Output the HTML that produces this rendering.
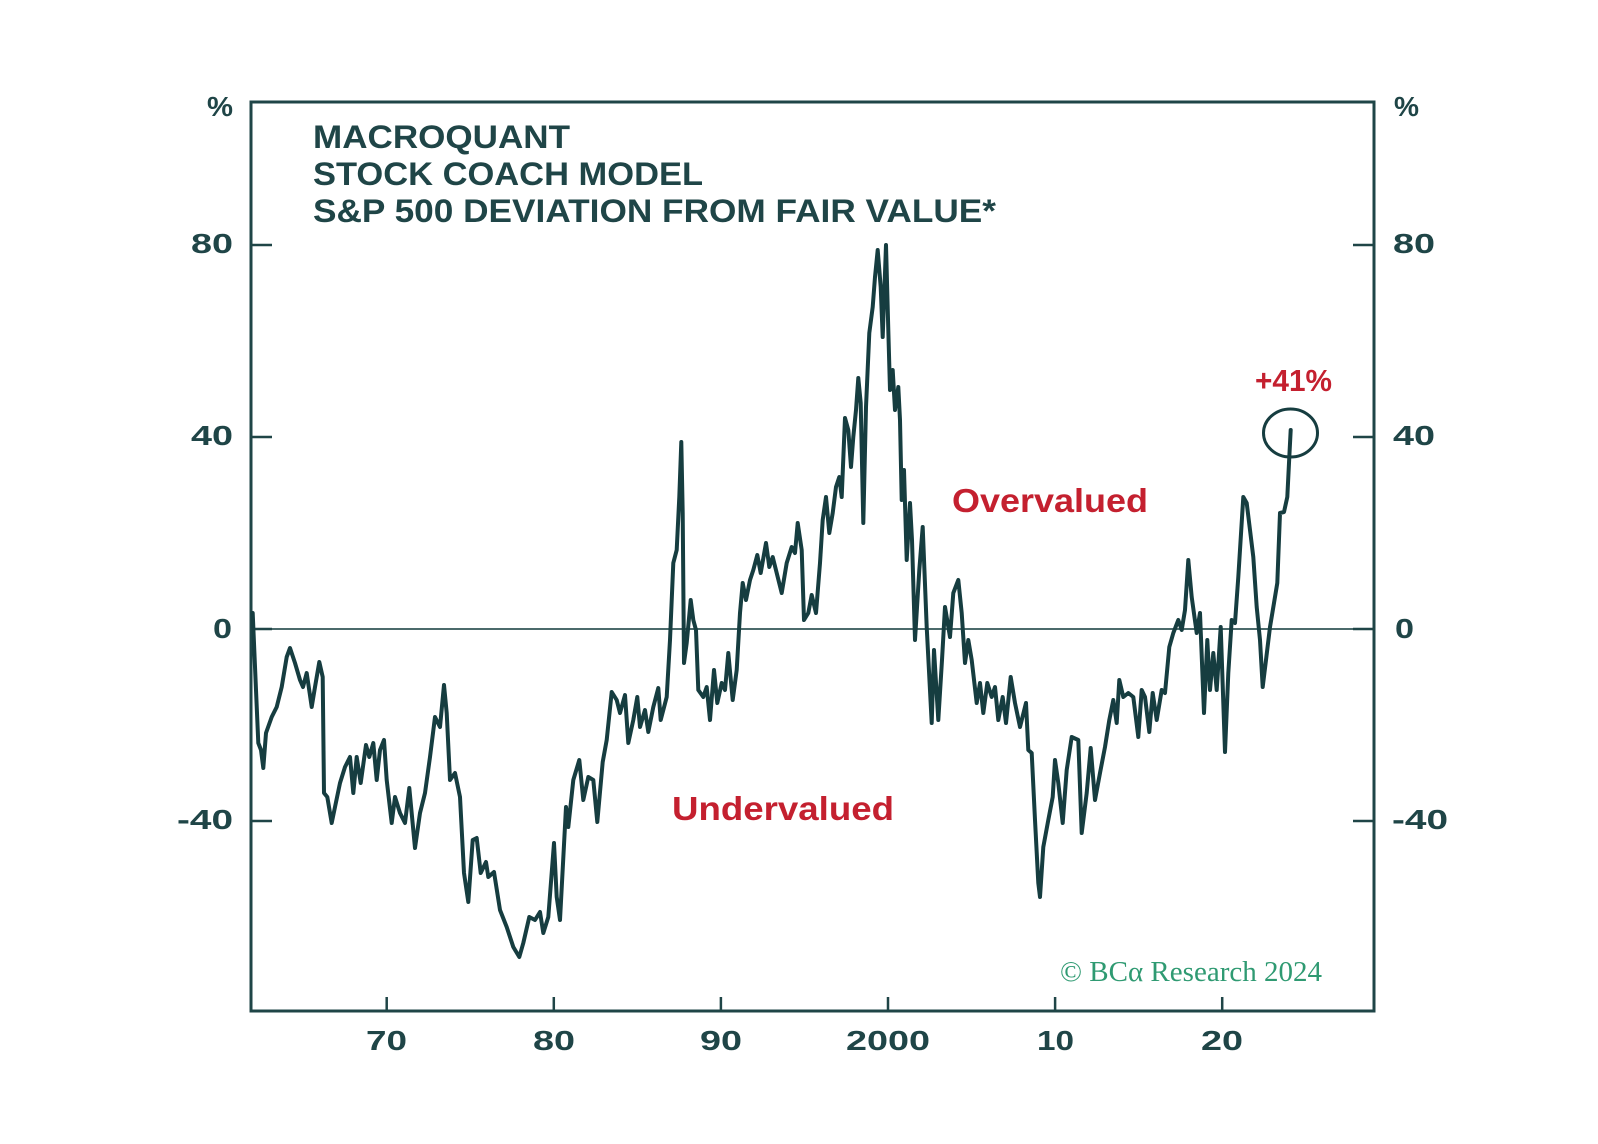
<!DOCTYPE html>
<html>
<head>
<meta charset="utf-8">
<style>
html,body{margin:0;padding:0;background:#ffffff;}
svg{display:block;}
</style>
</head>
<body>
<svg width="1598" height="1144" viewBox="0 0 1598 1144" xmlns="http://www.w3.org/2000/svg">
<rect x="0" y="0" width="1598" height="1144" fill="#ffffff"/>

<!-- zero line -->
<line x1="251" y1="629" x2="1374" y2="629" stroke="#4b6a6b" stroke-width="2"/>

<!-- frame -->
<rect x="251" y="102" width="1123" height="909" fill="none" stroke="#1f4547" stroke-width="3"/>

<!-- y ticks left/right -->
<g stroke="#1f4547" stroke-width="2.5">
<line x1="251" y1="245" x2="272" y2="245"/>
<line x1="251" y1="437" x2="272" y2="437"/>
<line x1="251" y1="629" x2="272" y2="629"/>
<line x1="251" y1="821" x2="272" y2="821"/>
<line x1="1353" y1="245" x2="1374" y2="245"/>
<line x1="1353" y1="437" x2="1374" y2="437"/>
<line x1="1353" y1="629" x2="1374" y2="629"/>
<line x1="1353" y1="821" x2="1374" y2="821"/>
<!-- x ticks -->
<line x1="386.7" y1="997" x2="386.7" y2="1011"/>
<line x1="553.8" y1="997" x2="553.8" y2="1011"/>
<line x1="720.9" y1="997" x2="720.9" y2="1011"/>
<line x1="888" y1="997" x2="888" y2="1011"/>
<line x1="1055.1" y1="997" x2="1055.1" y2="1011"/>
<line x1="1222.2" y1="997" x2="1222.2" y2="1011"/>
</g>

<!-- y labels -->
<g font-family="Liberation Sans, sans-serif" font-weight="bold" font-size="28" fill="#1f4547">
<text x="207" y="116" textLength="26" lengthAdjust="spacingAndGlyphs">%</text>
<text x="1394" y="116" textLength="25" lengthAdjust="spacingAndGlyphs">%</text>
<text x="191" y="253" textLength="42" lengthAdjust="spacingAndGlyphs">80</text>
<text x="191" y="445" textLength="42" lengthAdjust="spacingAndGlyphs">40</text>
<text x="213" y="638" textLength="19" lengthAdjust="spacingAndGlyphs">0</text>
<text x="177" y="829" textLength="56" lengthAdjust="spacingAndGlyphs">-40</text>
<text x="1393" y="253" textLength="42" lengthAdjust="spacingAndGlyphs">80</text>
<text x="1393" y="445" textLength="42" lengthAdjust="spacingAndGlyphs">40</text>
<text x="1395" y="638" textLength="19" lengthAdjust="spacingAndGlyphs">0</text>
<text x="1392" y="829" textLength="56" lengthAdjust="spacingAndGlyphs">-40</text>
<!-- x labels -->
<text x="366" y="1050" textLength="41" lengthAdjust="spacingAndGlyphs">70</text>
<text x="533" y="1050" textLength="42" lengthAdjust="spacingAndGlyphs">80</text>
<text x="700" y="1050" textLength="42" lengthAdjust="spacingAndGlyphs">90</text>
<text x="846" y="1050" textLength="84" lengthAdjust="spacingAndGlyphs">2000</text>
<text x="1037" y="1050" textLength="37" lengthAdjust="spacingAndGlyphs">10</text>
<text x="1201" y="1050" textLength="42" lengthAdjust="spacingAndGlyphs">20</text>
</g>

<!-- title -->
<g font-family="Liberation Sans, sans-serif" font-weight="bold" font-size="32" fill="#1f4547">
<text x="313" y="148" textLength="257" lengthAdjust="spacingAndGlyphs">MACROQUANT</text>
<text x="313" y="185" textLength="390" lengthAdjust="spacingAndGlyphs">STOCK COACH MODEL</text>
<text x="313" y="222" textLength="683" lengthAdjust="spacingAndGlyphs">S&amp;P 500 DEVIATION FROM FAIR VALUE*</text>
</g>

<!-- annotations -->
<g font-family="Liberation Sans, sans-serif" font-weight="bold" fill="#c4202f">
<text x="952" y="512" font-size="33" textLength="196" lengthAdjust="spacingAndGlyphs">Overvalued</text>
<text x="672" y="820" font-size="33" textLength="222" lengthAdjust="spacingAndGlyphs">Undervalued</text>
<text x="1255" y="391" font-size="31" textLength="77" lengthAdjust="spacingAndGlyphs">+41%</text>
</g>

<text x="1060" y="981" font-family="Liberation Serif, serif" font-size="29" fill="#2f9a72" textLength="262" lengthAdjust="spacingAndGlyphs">© BCα Research 2024</text>

<!-- series -->
<polyline fill="none" stroke="#163d40" stroke-width="4" stroke-linejoin="round" stroke-linecap="round" points="252.7,613 256,690 258.3,743 261,750 263.3,768 266,733 271.7,717 276.7,707 281.7,687 286.7,657 290,648 295,663 300,680 303,687 306.7,673 311.7,707 315,687 319.3,662 322.7,677 324,793 327.3,797 331.7,823 335,807 340,783 345,767 350,757 353.3,793 356.7,757 360.7,783 366,745 369.3,757 373.3,743 376.7,780 380,750 384,740 386.7,780 391.7,823 395,797 400,813 405,823 409.3,788 415,848 420,813 425,793 430,757 435,717 440,727 444,685 446.7,713 450,780 455,773 460,797 464,873 468.3,902 472.7,840 476.7,838 480.7,873 486,862 488.3,877 494,872 500,910 506.7,927 513.3,947 519.3,957 523.3,943 529.3,917 535,920 540,912 543.3,933 548.3,917 554,843 556.7,897 560,920 566,807 568.3,827 573.3,780 579.3,760 583.3,800 588.3,777 593.3,780 597.3,822 602.7,762 606.7,740 611.7,692 616.7,700 620,713 625,695 628.3,743 633.3,720 637.3,697 640,727 645,710 648.3,732 653.3,707 658.3,688 660.7,720 666.7,697 670,640 673.3,563 676.7,550 679.3,497 681.3,442 682.7,513 684,663 686.7,643 690.7,600 693.3,620 696,630 698.3,690 703.3,697 706.7,687 710,720 714,670 717.3,703 721.7,683 725,690 728.3,653 732.7,700 736.7,670 740,613 742.7,583 746,600 750,580 753.3,570 757.3,555 760.7,573 766,543 769.3,567 772.7,557 776.7,573 781.7,593 786.7,563 791.7,547 795,553 797.7,523 801.7,550 804,620 808.3,613 811.7,595 816,613 820,563 822.7,520 826,497 829.3,533 832.7,513 836,487 839.3,477 841.7,497 845,418 848.3,430 851,467 853.3,437 856,410 858.3,378 860.7,403 863.3,523 866,407 869.3,333 872.7,307 875,277 877.7,250 880.7,287 882.7,337 886,245 888.3,330 890,390 892.7,370 895,410 898.3,387 900,420 901.7,500 904,470 906.7,560 910,503 912,540 915,640 919.3,570 922.7,527 926.7,627 931.7,723 934,650 938.3,720 942,660 945,607 950,637 953.3,593 958.3,580 961.7,613 965,663 968.3,640 971.7,660 976.7,703 980,683 983.3,713 987.3,683 991.7,697 995,687 998.3,720 1002.7,697 1006,723 1010.7,677 1015,703 1020,727 1026,703 1028.3,750 1031.7,753 1035,820 1038.3,883 1040,897 1043.3,847 1048.3,820 1052.7,797 1055,760 1058.3,783 1062.7,823 1066.7,770 1071.7,737 1078.3,740 1081.7,833 1086.7,793 1090.7,748 1095,800 1100,773 1105,747 1109.3,720 1113.3,700 1116.7,723 1119.3,680 1123.3,697 1128.3,693 1133.3,697 1138.3,737 1141.7,690 1145,697 1149.3,732 1152.7,693 1156.7,720 1161.7,690 1165,693 1169.3,647 1173.3,633 1178.3,620 1181.7,630 1185,610 1188.3,560 1191.7,597 1196.7,633 1200,613 1204,713 1207.3,640 1210,690 1213.3,653 1216.7,690 1220.7,627 1225,752 1228.3,673 1231.7,620 1235,623 1238.3,577 1243.3,497 1246.7,503 1250,530 1253.3,557 1256.7,607 1260,640 1262.7,687 1266,660 1270,627 1274,603 1277.3,583 1280,513 1284,512 1287.3,497 1289.3,457 1290.7,430"/>

<!-- circle -->
<ellipse cx="1290.5" cy="433" rx="27" ry="24" fill="none" stroke="#163d40" stroke-width="3"/>
</svg>
</body>
</html>
